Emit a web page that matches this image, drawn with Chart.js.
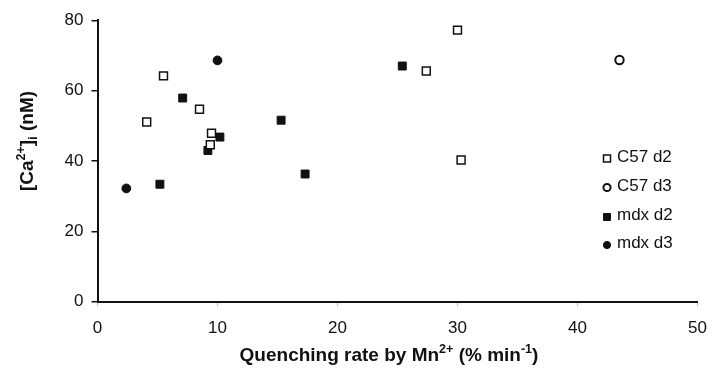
<!DOCTYPE html>
<html>
<head>
<meta charset="utf-8">
<script src="https://cdn.jsdelivr.net/npm/chart.js@4.4.1/dist/chart.umd.min.js"></script>
<style>
  html, body { margin: 0; padding: 0; background: #fff; }
  #wrap { width: 721px; height: 373px; }
</style>
</head>
<body>
<div id="wrap"><canvas id="chart" width="721" height="373"></canvas></div>
<script>
// data: quenching rate (x, % min-1) vs [Ca2+]i (y, nM)
const c57d2X = [4.1, 5.5, 8.5, 9.5, 9.4, 30.0, 27.4, 30.3];
const c57d2Y = [51.1, 64.2, 54.7, 47.9, 44.6, 77.2, 65.6, 40.3];
const c57d3X = [43.5];
const c57d3Y = [68.7];
const mdxd2X = [7.1, 10.2, 9.2, 5.2, 15.3, 17.3, 25.4];
const mdxd2Y = [57.9, 46.8, 43.0, 33.4, 51.6, 36.3, 67.0];
const mdxd3X = [2.4, 10.0];
const mdxd3Y = [32.2, 68.6];
const seriesNames = ["C57 d2", "C57 d3", "mdx d2", "mdx d3"];
const xTicks = [0, 10, 20, 30, 40, 50];
const yTicks = [0, 20, 40, 60, 80];

const FONT = "'Liberation Sans', Arial, sans-serif";

function pts(xs, ys) {
  return xs.map((x, i) => ({ x: x, y: ys[i] }));
}

const styles = [
  { pointStyle: "rect", radius: 5.6, bg: "#fff", border: "#111", bw: 1.5 },
  { pointStyle: "circle", radius: 4.2, bg: "#fff", border: "#111", bw: 2 },
  { pointStyle: "rect", radius: 5.6, bg: "#111", border: "#111", bw: 1 },
  { pointStyle: "circle", radius: 4.4, bg: "#111", border: "#111", bw: 1 }
];
const seriesData = [pts(c57d2X, c57d2Y), pts(c57d3X, c57d3Y), pts(mdxd2X, mdxd2Y), pts(mdxd3X, mdxd3Y)];

// draw a run of text pieces, some raised or lowered
function richWidth(ctx, parts, size) {
  let w = 0;
  parts.forEach(p => {
    const s = p.sup || p.sub ? size * 0.66 : size;
    ctx.font = "bold " + s + "px " + FONT;
    w += ctx.measureText(p.t).width;
  });
  return w;
}
function drawRich(ctx, parts, size, cx, cy) {
  const total = richWidth(ctx, parts, size);
  let x = cx - total / 2;
  ctx.textBaseline = "middle";
  ctx.textAlign = "left";
  parts.forEach(p => {
    const s = p.sup || p.sub ? size * 0.66 : size;
    ctx.font = "bold " + s + "px " + FONT;
    let dy = 0;
    if (p.sup) dy = -size * 0.36;
    if (p.sub) dy = size * 0.3;
    ctx.fillText(p.t, x, cy + dy);
    x += ctx.measureText(p.t).width;
  });
}

const titlesAndLegend = {
  id: "titlesAndLegend",
  afterDraw(chart) {
    const ctx = chart.ctx;
    ctx.save();
    ctx.fillStyle = "#111";
    // x title
    drawRich(ctx, [
      { t: "Quenching rate by Mn" }, { t: "2+", sup: true }, { t: " (% min" }, { t: "-1", sup: true }, { t: ")" }
    ], 19, 389, 356);
    // y title
    ctx.save();
    ctx.translate(28, 141);
    ctx.rotate(-Math.PI / 2);
    drawRich(ctx, [
      { t: "[Ca" }, { t: "2+", sup: true }, { t: "]" }, { t: "i", sub: true }, { t: " (nM)" }
    ], 19, 0, 0);
    ctx.restore();

    // legend
    const rows = [157, 186, 215.5, 243.5];
    ctx.font = "17px " + FONT;
    ctx.textBaseline = "middle";
    ctx.textAlign = "left";
    seriesNames.forEach((name, i) => {
      const st = styles[i];
      const mx = 607, my = rows[i] + 1.5;
      ctx.lineWidth = st.bw;
      ctx.strokeStyle = st.border;
      ctx.fillStyle = st.bg;
      ctx.beginPath();
      if (st.pointStyle === "rect") {
        ctx.rect(mx - 3.5, my - 3.5, 7, 7);
      } else {
        ctx.arc(mx, my, 3.6, 0, Math.PI * 2);
      }
      ctx.fill();
      ctx.stroke();
      ctx.fillStyle = "#111";
      ctx.fillText(name, 617, rows[i]);
    });
    ctx.restore();
  }
};

new Chart(document.getElementById("chart"), {
  type: "scatter",
  data: {
    datasets: seriesNames.map((name, i) => ({
      label: name,
      data: seriesData[i],
      pointStyle: styles[i].pointStyle,
      pointRadius: styles[i].radius,
      pointHoverRadius: styles[i].radius,
      backgroundColor: styles[i].bg,
      borderColor: styles[i].border,
      borderWidth: styles[i].bw
    }))
  },
  options: {
    responsive: false,
    animation: false,
    layout: { padding: { left: 0, right: 23.5, top: 20.3, bottom: 0 } },
    plugins: { legend: { display: false }, tooltip: { enabled: false } },
    scales: {
      x: {
        type: "linear",
        min: 0,
        max: 50,
        afterBuildTicks(scale) { scale.ticks = xTicks.map(v => ({ value: v })); },
        afterFit(scale) { scale.height = 71.3; },
        border: { color: "#111", width: 2 },
        grid: { drawOnChartArea: false, color: "#bbb", tickLength: 4, lineWidth: 1 },
        ticks: { color: "#111", font: { family: FONT, size: 17 }, padding: 12, maxRotation: 0 }
      },
      y: {
        type: "linear",
        min: 0,
        max: 80,
        afterBuildTicks(scale) { scale.ticks = yTicks.map(v => ({ value: v })); },
        afterFit(scale) { scale.width = 97.5; },
        border: { color: "#111", width: 2 },
        grid: { drawOnChartArea: false, color: "#111", tickLength: 6, lineWidth: 1.5 },
        ticks: { color: "#111", font: { family: FONT, size: 17 }, padding: 8 }
      }
    }
  },
  plugins: [titlesAndLegend]
});
</script>
</body>
</html>
